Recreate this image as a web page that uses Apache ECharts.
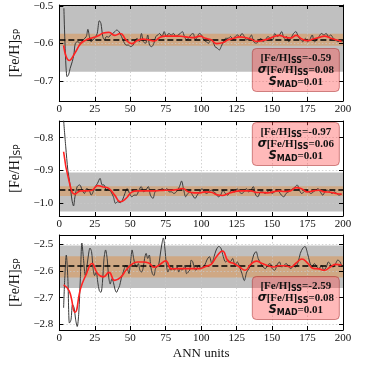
<!DOCTYPE html>
<html>
<head>
<meta charset="utf-8">
<script src="https://cdn.jsdelivr.net/npm/echarts@6/dist/echarts.min.js"></script>
<style>
    html, body { margin: 0; padding: 0; background: #fff; }
    #chart { width: 382px; height: 376px; }
</style>
</head>
<body>
<div id="chart"></div>
<script>
// [ANN units, [Fe/H]_SP]
const rawTop = [[3.2,-0.506],[5.4,-0.688],[6.5,-0.683],[7.6,-0.666],[9.1,-0.648],[10.2,-0.630],[11.3,-0.599],[13.0,-0.595],[14.6,-0.599],[16.8,-0.590],
    [19.0,-0.581],[20.1,-0.562],[21.2,-0.581],[22.3,-0.595],[23.8,-0.590],[25.6,-0.581],[26.7,-0.573],[28.2,-0.539],[29.3,-0.546],[30.6,-0.581],
    [31.8,-0.590],[33.3,-0.581],[34.8,-0.583],[36.1,-0.577],[37.7,-0.573],[39.2,-0.568],[40.5,-0.564],[42.0,-0.568],[43.8,-0.581],[45.4,-0.595],
    [47.1,-0.604],[48.7,-0.604],[50.2,-0.608],[52.0,-0.604],[53.5,-0.590],[54.8,-0.586],[56.4,-0.595],[57.9,-0.573],[59.2,-0.595],[60.8,-0.599],
    [62.3,-0.577],[63.6,-0.604],[65.1,-0.608],[66.7,-0.599],[68.0,-0.581],[69.5,-0.577],[70.6,-0.573],[72.4,-0.581],[73.9,-0.568],[75.4,-0.581],
    [77.2,-0.573],[78.9,-0.577],[80.5,-0.573],[82.0,-0.581],[83.8,-0.577],[85.3,-0.573],[86.7,-0.568],[88.2,-0.581],[89.7,-0.590],[91.0,-0.586],
    [92.6,-0.577],[94.3,-0.573],[95.9,-0.590],[97.4,-0.581],[98.7,-0.573],[100.3,-0.577],[101.8,-0.590],[103.6,-0.595],[105.1,-0.599],[106.9,-0.590],
    [108.4,-0.595],[109.7,-0.608],[111.3,-0.612],[112.8,-0.617],[114.1,-0.608],[115.7,-0.595],[117.2,-0.586],[119.0,-0.586],[120.7,-0.581],[122.3,-0.590],
    [124.0,-0.581],[125.5,-0.577],[127.1,-0.581],[128.8,-0.573],[130.4,-0.581],[132.1,-0.590],[133.9,-0.586],[135.4,-0.577],[137.0,-0.595],[138.7,-0.599],
    [140.3,-0.595],[142.0,-0.586],[143.6,-0.595],[145.3,-0.590],[147.1,-0.581],[148.6,-0.586],[150.4,-0.590],[151.9,-0.573],[153.7,-0.581],[155.2,-0.577],
    [156.8,-0.568],[158.5,-0.586],[160.2,-0.581],[161.8,-0.595],[163.3,-0.586],[165.1,-0.573],[166.8,-0.568],[168.4,-0.581],[170.1,-0.590],[171.7,-0.595],
    [173.4,-0.586],[175.0,-0.595],[176.5,-0.590],[178.3,-0.577],[179.8,-0.595],[181.5,-0.590],[183.1,-0.581],[184.8,-0.573],[186.6,-0.577],[188.1,-0.573],
    [189.9,-0.581],[191.4,-0.577],[193.2,-0.586],[194.7,-0.590],[196.5,-0.595],[198.0,-0.592],[199.8,-0.595]];

const smoothTop = [[3,-0.605],[7,-0.645],[11,-0.625],[15,-0.600],[19,-0.590],[23,-0.585],[27,-0.580],[31,-0.572],[35,-0.570],[39,-0.578],
    [43,-0.573],[47,-0.590],[51,-0.600],[55,-0.592],[59,-0.588],[63,-0.590],[67,-0.593],[71,-0.583],[75,-0.580],[79,-0.580],
    [83,-0.580],[87,-0.581],[91,-0.583],[95,-0.584],[99,-0.580],[103,-0.586],[107,-0.590],[111,-0.600],[115,-0.598],[119,-0.590],
    [123,-0.586],[127,-0.582],[131,-0.584],[135,-0.588],[139,-0.594],[143,-0.592],[147,-0.588],[151,-0.582],[155,-0.578],[159,-0.583],
    [163,-0.585],[167,-0.578],[171,-0.588],[175,-0.592],[179,-0.588],[183,-0.584],[187,-0.580],[191,-0.585],[195,-0.590],[199,-0.594]];

const rawMid = [[3.0,-0.747],[4.5,-0.828],[6.0,-0.899],[7.4,-0.939],[8.9,-0.990],[10.0,-1.008],[11.0,-0.980],[12.6,-0.949],[14.4,-0.944],[16.1,-0.960],
    [17.7,-0.970],[19.2,-0.955],[21.0,-0.960],[22.5,-0.975],[23.8,-0.965],[25.4,-0.949],[26.9,-0.939],[28.7,-0.924],[30.2,-0.944],[31.5,-0.944],
    [33.1,-0.960],[34.6,-0.955],[36.4,-0.965],[38.1,-0.980],[39.6,-1.000],[41.2,-0.995],[42.9,-0.998],[44.5,-0.990],[46.2,-0.970],[47.8,-0.955],
    [49.5,-0.970],[51.1,-0.980],[52.8,-0.975],[54.4,-0.975],[56.1,-0.960],[57.7,-0.949],[59.4,-0.965],[61.0,-0.960],[62.7,-0.949],[64.2,-0.975],
    [66.0,-0.985],[67.5,-0.965],[69.3,-0.960],[70.8,-0.960],[72.6,-0.955],[74.1,-0.960],[75.9,-0.955],[77.4,-0.965],[79.2,-0.965],[80.7,-0.970],
    [82.5,-0.965],[84.7,-0.949],[86.2,-0.932],[87.5,-0.955],[89.1,-0.980],[90.6,-0.970],[92.4,-0.965],[93.9,-0.975],[95.7,-0.985],[97.2,-0.975],
    [99.0,-0.965],[100.5,-0.955],[102.3,-0.965],[103.8,-0.970],[105.5,-0.965],[107.1,-0.960],[108.8,-0.965],[110.4,-0.970],[112.1,-0.980],[113.7,-0.975],
    [115.4,-0.960],[117.0,-0.970],[118.7,-0.975],[120.3,-0.965],[122.0,-0.960],[123.6,-0.965],[125.3,-0.955],[126.9,-0.965],[128.6,-0.970],[130.2,-0.965],
    [131.9,-0.955],[133.4,-0.965],[135.2,-0.960],[136.7,-0.949],[138.5,-0.975],[140.0,-0.980],[141.8,-0.965],[143.3,-0.965],[145.1,-0.970],[146.6,-0.965],
    [148.4,-0.960],[149.9,-0.970],[151.7,-0.965],[153.2,-0.960],[155.0,-0.965],[156.5,-0.975],[158.3,-0.980],[159.8,-0.970],[161.6,-0.965],[163.1,-0.960],
    [164.9,-0.955],[166.4,-0.949],[167.7,-0.944],[169.3,-0.960],[170.8,-0.970],[172.5,-0.965],[174.1,-0.960],[175.8,-0.965],[177.4,-0.970],[179.1,-0.965],
    [180.7,-0.960],[182.4,-0.955],[184.0,-0.965],[185.7,-0.975],[187.3,-0.965],[189.0,-0.960],[190.6,-0.965],[192.3,-0.970],[193.9,-0.965],[195.6,-0.970],
    [197.2,-0.975],[199.0,-0.972]];

const smoothMid = [[3,-0.843],[7,-0.935],[11,-0.972],[15,-0.962],[19,-0.962],[23,-0.960],[27,-0.946],[31,-0.950],[35,-0.955],[39,-0.975],
    [43,-0.995],[47,-0.985],[51,-0.966],[55,-0.962],[59,-0.962],[63,-0.962],[67,-0.962],[71,-0.961],[75,-0.960],[79,-0.960],
    [83,-0.958],[87,-0.955],[91,-0.965],[95,-0.968],[99,-0.968],[103,-0.965],[107,-0.966],[111,-0.974],[115,-0.976],[119,-0.970],
    [123,-0.965],[127,-0.962],[131,-0.962],[135,-0.962],[139,-0.967],[143,-0.967],[147,-0.968],[151,-0.965],[155,-0.962],[159,-0.964],
    [163,-0.962],[167,-0.952],[171,-0.956],[175,-0.965],[179,-0.962],[183,-0.960],[187,-0.965],[191,-0.966],[195,-0.970],[199,-0.972]];

const rawLow = [[3.0,-2.738],[3.8,-2.629],[4.9,-2.540],[6.0,-2.629],[7.1,-2.795],[8.2,-2.783],[9.3,-2.725],[10.4,-2.738],[11.5,-2.783],[12.6,-2.808],
    [13.7,-2.757],[14.8,-2.629],[15.9,-2.495],[17.0,-2.553],[18.3,-2.617],[19.4,-2.585],[20.5,-2.540],[21.6,-2.514],[22.7,-2.527],[23.8,-2.591],
    [24.9,-2.617],[26.0,-2.604],[27.1,-2.642],[28.2,-2.674],[29.3,-2.680],[30.4,-2.642],[31.5,-2.553],[32.6,-2.521],[33.7,-2.553],[34.8,-2.623],
    [35.9,-2.649],[37.0,-2.629],[38.1,-2.642],[39.2,-2.668],[40.3,-2.680],[41.4,-2.668],[42.5,-2.655],[43.6,-2.629],[44.7,-2.610],[45.8,-2.591],
    [46.9,-2.578],[48.0,-2.591],[49.1,-2.610],[50.2,-2.566],[51.3,-2.521],[52.4,-2.553],[53.5,-2.578],[54.6,-2.585],[55.7,-2.572],[56.8,-2.597],
    [57.9,-2.604],[59.0,-2.591],[60.1,-2.553],[61.2,-2.534],[62.3,-2.553],[63.4,-2.540],[64.5,-2.585],[65.6,-2.610],[66.7,-2.617],[67.8,-2.591],
    [68.9,-2.585],[70.0,-2.578],[71.1,-2.540],[72.2,-2.502],[73.3,-2.476],[74.4,-2.514],[75.5,-2.578],[76.6,-2.604],[77.7,-2.591],[78.8,-2.597],
    [79.9,-2.585],[81.0,-2.597],[82.0,-2.591],[83.1,-2.585],[84.2,-2.604],[85.3,-2.591],[86.4,-2.597],[87.5,-2.591],[88.6,-2.578],[89.7,-2.610],
    [90.8,-2.604],[91.9,-2.597],[93.0,-2.559],[94.1,-2.566],[95.2,-2.591],[96.3,-2.597],[97.4,-2.585],[98.5,-2.578],[99.6,-2.591],[100.9,-2.585],
    [102.5,-2.578],[104.0,-2.559],[105.8,-2.546],[107.5,-2.572],[109.1,-2.546],[110.6,-2.521],[112.4,-2.508],[113.9,-2.514],[115.6,-2.546],[117.2,-2.566],
    [119.0,-2.559],[120.5,-2.566],[122.2,-2.553],[123.8,-2.578],[125.5,-2.566],[127.1,-2.585],[128.8,-2.610],[130.4,-2.636],[132.1,-2.604],[133.7,-2.591],
    [135.4,-2.572],[137.0,-2.540],[138.7,-2.527],[140.2,-2.553],[142.0,-2.572],[143.6,-2.585],[145.3,-2.591],[146.9,-2.578],[148.6,-2.572],[150.1,-2.591],
    [151.9,-2.597],[153.4,-2.578],[155.2,-2.566],[156.8,-2.585],[158.5,-2.578],[160.0,-2.572],[161.8,-2.585],[163.3,-2.591],[165.1,-2.578],[166.6,-2.585],
    [168.4,-2.566],[169.9,-2.534],[171.7,-2.514],[173.2,-2.508],[175.0,-2.534],[176.5,-2.566],[178.2,-2.585],[179.8,-2.572],[181.6,-2.585],[183.1,-2.591],
    [184.9,-2.578],[186.4,-2.597],[188.2,-2.585],[189.7,-2.566],[191.5,-2.578],[193.0,-2.585],[194.8,-2.572],[196.3,-2.559],[198.0,-2.566],[199.1,-2.585]];

const smoothLow = [[3,-2.652],[7,-2.675],[11,-2.755],[15,-2.665],[19,-2.612],[23,-2.572],[27,-2.610],[31,-2.622],[35,-2.605],[39,-2.635],
    [43,-2.625],[47,-2.597],[51,-2.575],[55,-2.566],[59,-2.566],[63,-2.570],[67,-2.586],[71,-2.575],[75,-2.562],[79,-2.592],
    [83,-2.591],[87,-2.591],[91,-2.591],[95,-2.591],[99,-2.591],[103,-2.583],[107,-2.575],[111,-2.545],[115,-2.525],[119,-2.563],
    [123,-2.572],[127,-2.585],[131,-2.597],[135,-2.575],[139,-2.563],[143,-2.572],[147,-2.580],[151,-2.585],[155,-2.580],[159,-2.580],
    [163,-2.585],[167,-2.570],[171,-2.555],[175,-2.570],[179,-2.590],[183,-2.592],[187,-2.597],[191,-2.585],[195,-2.575],[199,-2.578]];

// mean, sigma band, small band
const meanLines = [-0.590, -0.964, -2.584];
const sigmaBands = [[-0.675, -0.497], [-1.025, -0.906], [-2.664, -2.504]];
const madBands = [[-0.606, -0.574], [-0.978, -0.948], [-2.624, -2.545]];

const statMean = ['-0.59', '-0.97', '-2.59'];
const statSigma = ['0.08', '0.06', '0.08'];
const statMad = ['0.01', '0.01', '0.01'];

const xTickStep = 25;
const yTicks = [[-0.7, -0.6, -0.5], [-1.0, -0.9, -0.8], [-2.8, -2.7, -2.6, -2.5]];
const yLimits = [[-0.7527, -0.4973], [-1.0385, -0.7494], [-2.821, -2.465]];

const rawSets = [rawTop, rawMid, rawLow];
const smoothSets = [smoothTop, smoothMid, smoothLow];

const chart = echarts.init(document.getElementById('chart'));

const serif = 'Liberation Serif';
const sans = 'DejaVu Sans';
const gridTops = [5, 121, 235];
const gridHeights = [96, 95, 95];
const boxTops = [49, 123, 277];

const fmt = v => v.toFixed(1).replace('-', '\u2212');
const frame = { show: true, onZero: false, lineStyle: { color: '#000', width: 1 } };
const gridLine = { show: true, lineStyle: { color: '#c8c8c8', type: [1.5, 2], width: 0.8 } };

const boxRich = {
    b: { fontFamily: serif, fontWeight: 'bold', fontSize: 11, color: '#111', lineHeight: 12 },
    s: { fontFamily: sans, fontSize: 8, color: '#111', padding: [6, 0, 0, 0], lineHeight: 7 },
    i: { fontFamily: sans, fontStyle: 'italic', fontSize: 11.5, color: '#111', lineHeight: 12 }
};

const grids = [], xAxes = [], yAxes = [], series = [], titles = [];

rawSets.forEach((raw, i) => {
    grids.push({ left: 39.5, right: 39, top: gridTops[i], height: gridHeights[i] });

    // bottom + top x axes
    xAxes.push({
        gridIndex: i, type: 'value', min: 0, max: 200, interval: xTickStep, z: 2,
        axisLine: frame,
        axisTick: { inside: true, length: 4, lineStyle: { color: '#000' } },
        axisLabel: { color: '#111', fontFamily: serif, fontSize: 11, margin: 3 },
        splitLine: gridLine,
        name: i === 2 ? 'ANN units' : '',
        nameLocation: 'middle', nameGap: 17,
        nameTextStyle: { fontFamily: serif, fontSize: 13, color: '#111' }
    });
    xAxes.push({
        gridIndex: i, type: 'value', min: 0, max: 200, interval: xTickStep, position: 'top', z: 2,
        axisLine: frame,
        axisTick: { inside: true, length: 4, lineStyle: { color: '#000' } },
        axisLabel: { show: false },
        splitLine: { show: false }
    });

    // left + right y axes
    yAxes.push({
        gridIndex: i, type: 'value', min: yLimits[i][0], max: yLimits[i][1], z: 2,
        axisLine: frame,
        axisTick: { inside: true, length: 4, customValues: yTicks[i], lineStyle: { color: '#000' } },
        axisLabel: { customValues: yTicks[i], formatter: fmt, color: '#111', fontFamily: serif, fontSize: 11, margin: 6 },
        splitLine: gridLine,
        name: '{m|[Fe/H]}{s|SP}',
        nameLocation: 'middle', nameRotate: 90, nameGap: 26,
        nameTextStyle: {
            rich: {
                m: { fontFamily: serif, fontSize: 14, color: '#111' },
                s: { fontFamily: sans, fontSize: 9, color: '#111', padding: [6, 0, 0, 0] }
            }
        }
    });
    yAxes.push({
        gridIndex: i, type: 'value', min: yLimits[i][0], max: yLimits[i][1], position: 'right', z: 2,
        axisLine: frame,
        axisTick: { inside: true, length: 4, customValues: yTicks[i], lineStyle: { color: '#000' } },
        axisLabel: { show: false },
        splitLine: { show: false }
    });

    series.push({
        type: 'line', xAxisIndex: 2 * i, yAxisIndex: 2 * i, z: 3,
        data: raw, showSymbol: false, smooth: 0.3,
        lineStyle: { color: '#3a3a3a', width: 1 },
        markArea: {
            silent: true, z: 1,
            data: [
                [{ yAxis: sigmaBands[i][0], itemStyle: { color: '#c0c0c0' } }, { yAxis: sigmaBands[i][1] }],
                [{ yAxis: madBands[i][0], itemStyle: { color: 'rgba(226,140,60,0.45)' } }, { yAxis: madBands[i][1] }]
            ]
        },
        markLine: {
            silent: true, symbol: 'none', z: 4,
            label: { show: false },
            lineStyle: { color: '#000', type: [6, 3], width: 1.5 },
            data: [{ yAxis: meanLines[i] }]
        }
    });
    series.push({
        type: 'line', xAxisIndex: 2 * i, yAxisIndex: 2 * i, z: 6,
        data: smoothSets[i], showSymbol: false, smooth: true,
        lineStyle: { color: '#ff2222', width: 1.6 }
    });

    // stats box; centred text shifts the box by half its width
    titles.push({
        text: `{b|[Fe/H]}{s|SS}{b|=${statMean[i]}}\n{i|σ}{b|[Fe/H]}{s|SS}{b|=${statSigma[i]}}\n{i|S}{s|MAD}{b|=${statMad[i]}}`,
        right: 4, top: boxTops[i], textAlign: 'center',
        backgroundColor: 'rgba(255,70,70,0.38)',
        borderColor: 'rgba(170,50,50,0.55)', borderWidth: 1, borderRadius: 4,
        padding: [3, 6, 3, 6],
        textStyle: { rich: boxRich, lineHeight: 12 }
    });
});

chart.setOption({
    animation: false,
    backgroundColor: '#fff',
    title: titles,
    grid: grids,
    xAxis: xAxes,
    yAxis: yAxes,
    series: series
});
</script>
</body>
</html>
